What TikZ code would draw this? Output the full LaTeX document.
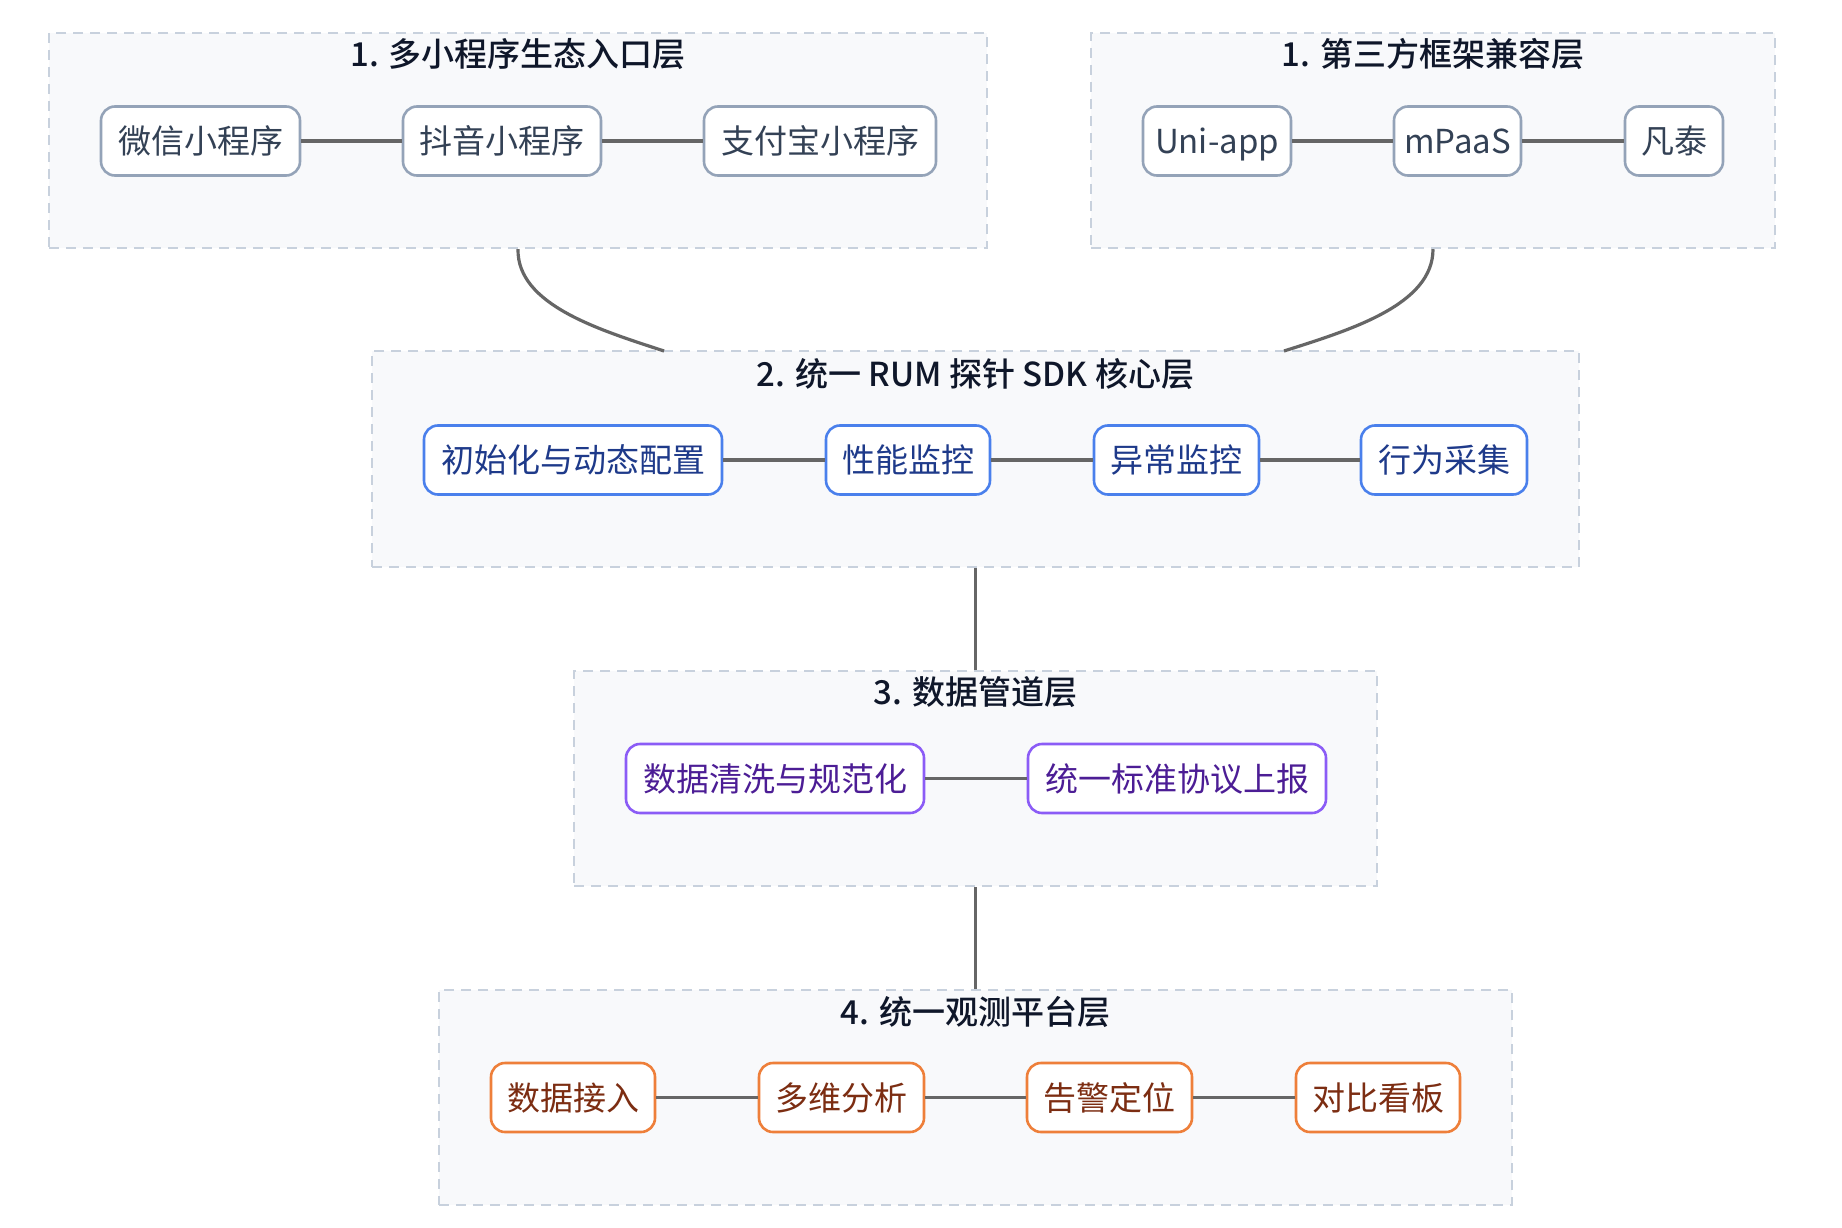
\documentclass[tikz,border=0pt]{standalone}
\usepackage{fontspec}
\setmainfont{Noto Sans CJK SC}[BoldFont={Noto Sans CJK SC Medium}]
\usetikzlibrary{calc}
\definecolor{clfill}{HTML}{F8F9FB}
\definecolor{cldraw}{HTML}{C8D1DD}
\definecolor{titlec}{HTML}{0F172A}
\definecolor{edgec}{HTML}{666666}
\definecolor{grayd}{HTML}{94A3B8}
\definecolor{grayt}{HTML}{334155}
\definecolor{blued}{HTML}{4A80EC}
\definecolor{bluet}{HTML}{1E3A8A}
\definecolor{purd}{HTML}{8B5CF6}
\definecolor{purt}{HTML}{4C1D95}
\definecolor{orad}{HTML}{EE7F3A}
\definecolor{orat}{HTML}{7C2D12}
\begin{document}
\begin{tikzpicture}[x=1pt,y=-1pt,
  cluster/.style={draw=cldraw,fill=clfill,line width=2.4pt,dash pattern=on 10pt off 7pt,minimum height=215pt,inner sep=0pt},
  cltitle/.style={text=titlec,font=\fontsize{33}{39}\selectfont\bfseries,inner sep=0pt},
  box/.style={draw,fill=white,line width=2.6pt,rounded corners=14pt,minimum height=69pt,inner sep=0pt,text height=29pt,text depth=4pt,font=\fontsize{33}{39}\selectfont},
  gbox/.style={box,draw=grayd,text=grayt},
  bbox/.style={box,draw=blued,text=bluet},
  pbox/.style={box,draw=purd,text=purt},
  obox/.style={box,draw=orad,text=orat},
  link/.style={draw=edgec,line width=3.2pt}]
\useasboundingbox (0,0) rectangle (1842,1228);
% clusters
\node[cluster,minimum width=938pt] (clA) at (518,140.5) {};
\node[cluster,minimum width=684pt] (clB) at (1433,140.5) {};
\node[cluster,minimum width=1207pt,minimum height=216pt] (clC) at (975.5,459) {};
\node[cluster,minimum width=803pt] (clD) at (975.5,778.5) {};
\node[cluster,minimum width=1073pt] (clE) at (975.5,1097.5) {};
% titles
\node[cltitle] (tA) at (518,54) {1. 多小程序生态入口层};
\node[cltitle] (tB) at (1433,54) {1. 第三方框架兼容层};
\node[cltitle] (tC) at (975.5,374) {2. 统一 RUM 探针 SDK 核心层};
\node[cltitle] (tD) at (975.5,692) {3. 数据管道层};
\node[cltitle] (tE) at (975.5,1012) {4. 统一观测平台层};
% layer 1
\node[gbox,minimum width=199pt] (a1) at (200.5,141) {微信小程序};
\node[gbox,minimum width=198pt] (a2) at (502,141) {抖音小程序};
\node[gbox,minimum width=232pt] (a3) at (820,141) {支付宝小程序};
\node[gbox,minimum width=148pt] (b1) at (1217,141) {Uni-app};
\node[gbox,minimum width=127pt] (b2) at (1457.5,141) {mPaaS};
\node[gbox,minimum width=98pt] (b3) at (1674,141) {凡泰};
% layer 2
\node[bbox,minimum width=298pt] (c1) at (573,460) {初始化与动态配置};
\node[bbox,minimum width=164pt] (c2) at (908,460) {性能监控};
\node[bbox,minimum width=165pt] (c3) at (1176.5,460) {异常监控};
\node[bbox,minimum width=166pt] (c4) at (1444,460) {行为采集};
% layer 3
\node[pbox,minimum width=298pt] (d1) at (775,778.5) {数据清洗与规范化};
\node[pbox,minimum width=298pt] (d2) at (1177,778.5) {统一标准协议上报};
% layer 4
\node[obox,minimum width=164pt] (e1) at (573,1097.5) {数据接入};
\node[obox,minimum width=165pt] (e2) at (841.5,1097.5) {多维分析};
\node[obox,minimum width=165pt] (e3) at (1109.5,1097.5) {告警定位};
\node[obox,minimum width=164pt] (e4) at (1378,1097.5) {对比看板};
% edges inside clusters
\draw[link] (a1) -- (a2);
\draw[link] (a2) -- (a3);
\draw[link] (b1) -- (b2);
\draw[link] (b2) -- (b3);
\draw[link] (c1) -- (c2);
\draw[link] (c2) -- (c3);
\draw[link] (c3) -- (c4);
\draw[link] (d1) -- (d2);
\draw[link] (e1) -- (e2);
\draw[link] (e2) -- (e3);
\draw[link] (e3) -- (e4);
% edges between clusters
\coordinate (cA) at (664,351);
\coordinate (cB) at (1284,351);
\draw[link] (clA.south) .. controls (517,305) and (600,330) .. (cA);
\draw[link] (clB.south) .. controls (1433,305) and (1350,330) .. (cB);
\draw[link] (clC.south) -- (clD.north);
\draw[link] (clD.south) -- (clE.north);
\end{tikzpicture}
\end{document}
